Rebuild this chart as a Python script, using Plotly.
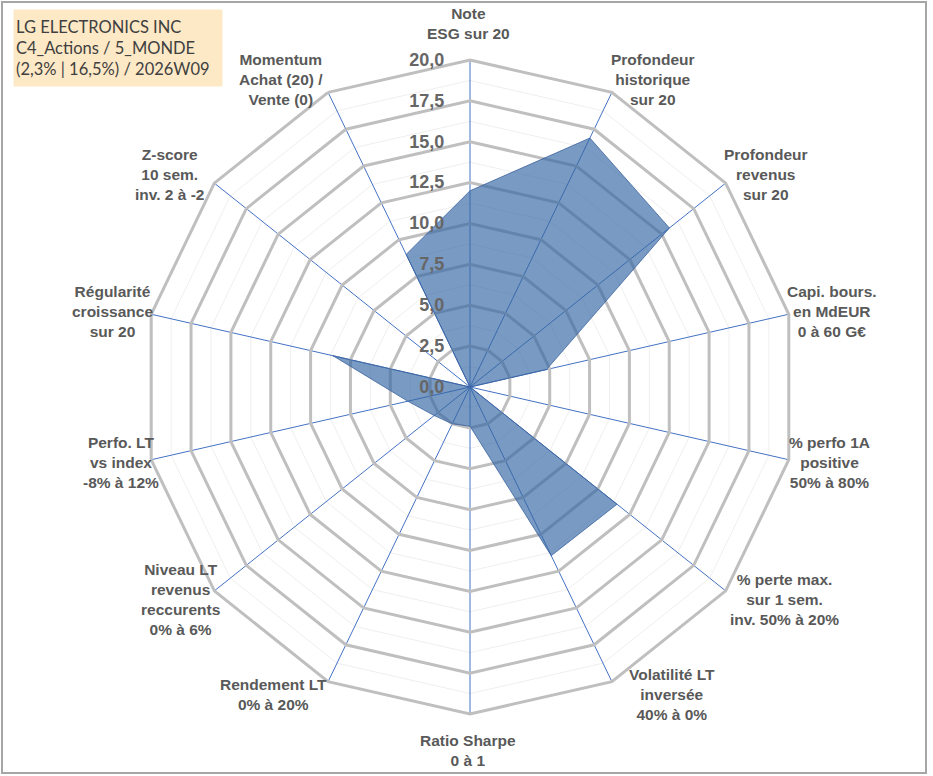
import math
import plotly.graph_objects as go

categories = [
    "Note<br>ESG sur 20",
    "Profondeur<br>historique<br>sur 20",
    "Profondeur<br>revenus<br>sur 20",
    "Capi. bours.<br>en MdEUR<br>0 à 60 G€",
    "% perfo 1A<br>positive<br>50% à 80%",
    "% perte max.<br>sur 1 sem.<br>inv. 50% à 20%",
    "Volatilité LT<br>inversée<br>40% à 0%",
    "Ratio Sharpe<br>0 à 1",
    "Rendement LT<br>0% à 20%",
    "Niveau LT<br>revenus<br>reccurents<br>0% à 6%",
    "Perfo. LT<br>vs index<br>-8% à 12%",
    "Régularité<br>croissance<br>sur 20",
    "Z-score<br>10 sem.<br>inv. 2 à -2",
    "Momentum<br>Achat (20) /<br>Vente (0)",
]
scores = [12.0, 16.9, 15.6, 4.8, 0.0, 11.5, 11.45, 2.4, 2.5, 2.8, 3.9, 8.6, 0.0, 9.0]
radial_range = [0, 20]
title_lines = ["LG ELECTRONICS INC", "C4_Actions / 5_MONDE", "(2,3% | 16,5%) / 2026W09"]

# layout-only settings
W, H = 933, 776
CX, CY, R = 470, 387, 327          # polar centre / radius in px (from top-left)
label_nudge_px = [0, -5, -6, -6, -4, 0, 13, 0, 3, 10, 12, 6, -5, -1]

r_closed = scores + scores[:1]
t_closed = categories + categories[:1]

fig = go.Figure()
fig.add_trace(go.Scatterpolar(r=r_closed, theta=t_closed, mode="lines",
                              line=dict(width=0, color="rgba(0,0,0,0)"),
                              hoverinfo="skip", showlegend=False, subplot="polar"))
fig.add_trace(go.Scatterpolar(r=r_closed, theta=t_closed, mode="lines", fill="toself",
                              fillcolor="rgba(52,102,162,0.66)",
                              line=dict(width=1, color="rgba(60,100,160,0.8)"),
                              showlegend=False, subplot="polar2"))

dom = dict(x=[(CX - R) / W, (CX + R) / W], y=[(H - CY - R) / H, (H - CY + R) / H])
lab_font = dict(family="Liberation Sans", size=15.5, color="#595959", weight="bold")

annotations = []
n = len(categories)
for i, cat in enumerate(categories):
    th = math.radians(90 - 360 * i / n)
    c, s = math.cos(th), math.sin(th)
    vx, vy = CX + R * c, CY - R * s
    if abs(c) < 0.1:
        xa = "center"
        ya = "bottom" if s > 0 else "top"
        x, y = vx - 2, vy - 16 * s
    else:
        xa = "left" if c > 0 else "right"
        ya = "middle"
        x, y = vx + 2 * c / abs(c), vy - 14 * s
    x += label_nudge_px[i]
    annotations.append(dict(text=cat, xref="paper", yref="paper", x=x / W, y=1 - y / H,
                            xanchor=xa, yanchor=ya, align="center", showarrow=False,
                            font=lab_font))

annotations.append(dict(text="<br>".join(title_lines), xref="paper", yref="paper",
                        x=13 / W, y=1 - 9 / H, xanchor="left", yanchor="top", align="left",
                        showarrow=False, bgcolor="#FDE9C6", width=204, height=72, borderpad=2,
                        font=dict(family="Lato", size=16.5, color="#404040")))

fig.update_layout(
    width=W, height=H,
    margin=dict(l=0, r=0, t=0, b=0),
    paper_bgcolor="white",
    separators=", ",
    polar=dict(
        domain=dom, bgcolor="white", gridshape="linear",
        radialaxis=dict(range=radial_range, dtick=1.25, gridcolor="#EFEFEF", gridwidth=1,
                        showticklabels=False, showline=False, ticks=""),
        angularaxis=dict(categoryorder="array", categoryarray=categories,
                         direction="clockwise", rotation=90, showgrid=False,
                         showline=False, showticklabels=False, ticks=""),
    ),
    polar2=dict(
        domain=dom, bgcolor="rgba(0,0,0,0)", gridshape="linear",
        radialaxis=dict(range=radial_range, dtick=2.5, tick0=0, gridcolor="#BFBFBF", gridwidth=3,
                        showline=False, ticks="outside", ticklen=19, tickcolor="rgba(0,0,0,0)",
                        tickformat=".1f", angle=90,
                        side="counterclockwise", tickangle=90,
                        tickfont=dict(family="Liberation Sans", size=18, color="#666666", weight="bold")),
        angularaxis=dict(categoryorder="array", categoryarray=categories,
                         direction="clockwise", rotation=90,
                         gridcolor="#4472C4", gridwidth=1.3,
                         showline=True, linecolor="#BFBFBF", linewidth=3, ticks="",
                         showticklabels=False),
    ),
    shapes=[dict(type="rect", xref="paper", yref="paper", x0=2 / W, x1=1 - 7 / W, y0=3 / H, y1=1 - 2 / H,
                 line=dict(color="#A6A6A6", width=2), fillcolor="rgba(0,0,0,0)")],
    annotations=annotations,
)

fig.write_html("out.html", config={"displayModeBar": False},
               post_script="document.body.style.margin='0px';")
